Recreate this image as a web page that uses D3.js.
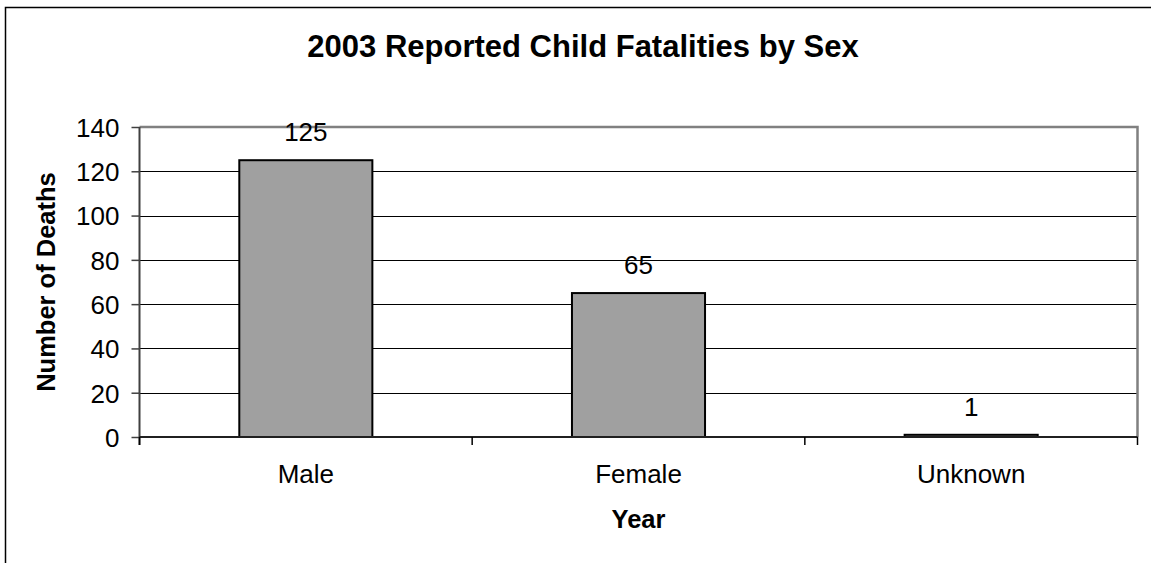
<!DOCTYPE html>
<html>
<head>
<meta charset="utf-8">
<script src="https://cdn.jsdelivr.net/npm/d3@7"></script>
<style>
  html, body { margin: 0; padding: 0; background: #fff; }
  svg { display: block; font-family: "Liberation Sans", Arial, sans-serif; }
</style>
</head>
<body>
<svg id="chart" width="1151" height="563"></svg>
<script>
// Reported child fatalities in 2003, by sex
const categories = ["Male", "Female", "Unknown"];
const deaths = [125, 65, 1];
const yTicks = [0, 20, 40, 60, 80, 100, 120, 140];
const chartTitle = "2003 Reported Child Fatalities by Sex";
const xTitle = "Year";
const yTitle = "Number of Deaths";

const svg = d3.select("#chart");

// Plot area bounds
const plot = { left: 139.5, right: 1137.5, top: 127, bottom: 437 };

const x = d3.scaleBand()
  .domain(categories)
  .range([plot.left, plot.right])
  .paddingInner(0.6)
  .paddingOuter(0.3);

const y = d3.scaleLinear()
  .domain([0, 140])
  .range([plot.bottom, plot.top]);

// Chart frame
svg.append("rect")
  .attr("x", 5.5).attr("y", 7.5)
  .attr("width", 1160).attr("height", 570)
  .attr("fill", "#fff")
  .attr("stroke", "#000")
  .attr("stroke-width", 1.5);

// Title
svg.append("text")
  .attr("x", 583).attr("y", 57)
  .attr("text-anchor", "middle")
  .attr("font-size", 31).attr("font-weight", "bold")
  .text(chartTitle);

// Horizontal gridlines
svg.append("g")
  .selectAll("line")
  .data(yTicks.filter(t => t > 0 && t < 140))
  .join("line")
  .attr("x1", plot.left).attr("x2", plot.right)
  .attr("y1", d => Math.round(y(d)) + 0.5)
  .attr("y2", d => Math.round(y(d)) + 0.5)
  .attr("stroke", "#000").attr("stroke-width", 1);

// Plot area border (top and right)
svg.append("path")
  .attr("d", `M${plot.left},${plot.top} H${plot.right} V${plot.bottom}`)
  .attr("fill", "none")
  .attr("stroke", "#808080").attr("stroke-width", 2.5);

// Bars
svg.append("g")
  .selectAll("rect")
  .data(categories.map((c, i) => ({ c, v: deaths[i] })))
  .join("rect")
  .attr("x", d => x(d.c))
  .attr("y", d => y(d.v))
  .attr("width", x.bandwidth())
  .attr("height", d => y(0) - y(d.v))
  .attr("fill", "#a0a0a0")
  .attr("stroke", "#000").attr("stroke-width", 2);

// Value labels
svg.append("g")
  .selectAll("text")
  .data(categories.map((c, i) => ({ c, v: deaths[i] })))
  .join("text")
  .attr("x", d => x(d.c) + x.bandwidth() / 2)
  .attr("y", d => y(d.v) - 19)
  .attr("text-anchor", "middle")
  .attr("font-size", 26)
  .text(d => d.v);

// Y axis
const yAxis = d3.axisLeft(y).tickValues(yTicks).tickSize(8).tickPadding(12);
const gy = svg.append("g")
  .attr("transform", `translate(${plot.left},0)`)
  .call(yAxis);
gy.select(".domain").remove();
gy.selectAll(".tick line").attr("stroke", "#404040").attr("stroke-width", 1.5);
gy.selectAll(".tick text")
  .attr("font-size", 26)
  .attr("font-family", "Liberation Sans, Arial, sans-serif")
  .attr("fill", "#000")
  .attr("dy", "0.36em");
svg.append("line")
  .attr("x1", plot.left).attr("x2", plot.left)
  .attr("y1", plot.top).attr("y2", plot.bottom + 8)
  .attr("stroke", "#404040").attr("stroke-width", 2);

// X axis with ticks at category boundaries
const boundaries = d3.range(categories.length + 1).map(i => plot.left + i * x.step());
svg.append("line")
  .attr("x1", plot.left).attr("x2", plot.right)
  .attr("y1", plot.bottom).attr("y2", plot.bottom)
  .attr("stroke", "#202020").attr("stroke-width", 2);
svg.append("g")
  .selectAll("line")
  .data(boundaries)
  .join("line")
  .attr("x1", d => d).attr("x2", d => d)
  .attr("y1", plot.bottom).attr("y2", plot.bottom + 8)
  .attr("stroke", "#000").attr("stroke-width", 1.5);

// Category labels
svg.append("g")
  .selectAll("text")
  .data(categories)
  .join("text")
  .attr("x", d => x(d) + x.bandwidth() / 2)
  .attr("y", 483)
  .attr("text-anchor", "middle")
  .attr("font-size", 26)
  .text(d => d);

// Axis titles
svg.append("text")
  .attr("x", (plot.left + plot.right) / 2).attr("y", 528)
  .attr("text-anchor", "middle")
  .attr("font-size", 25.5).attr("font-weight", "bold")
  .text(xTitle);

svg.append("text")
  .attr("transform", `translate(55,${(plot.top + plot.bottom) / 2}) rotate(-90)`)
  .attr("text-anchor", "middle")
  .attr("font-size", 25.5).attr("font-weight", "bold")
  .text(yTitle);
</script>
</body>
</html>
